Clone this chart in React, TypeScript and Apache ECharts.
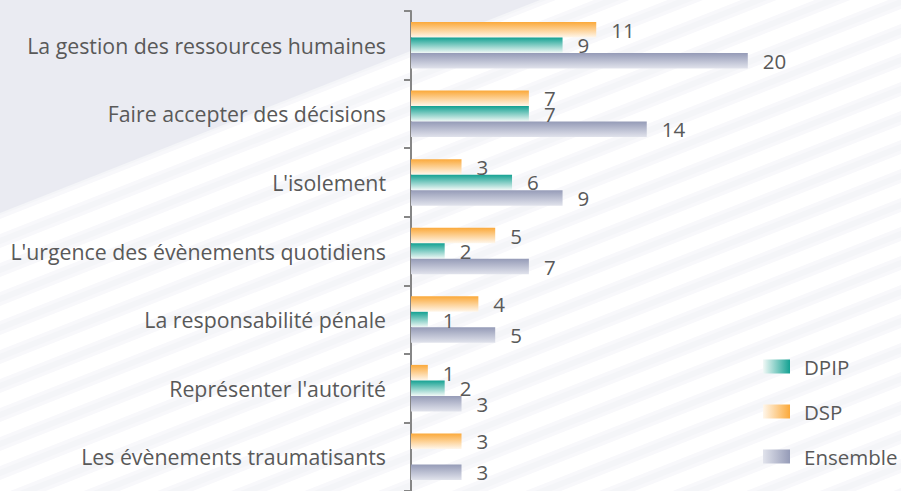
import React, { useEffect, useRef } from "react";
import * as echarts from "echarts";

const categories = [
  "La gestion des ressources humaines",
  "Faire accepter des décisions",
  "L'isolement",
  "L'urgence des évènements quotidiens",
  "La responsabilité pénale",
  "Représenter l'autorité",
  "Les évènements traumatisants",
];
const dspValues = [11, 7, 3, 5, 4, 1, 3];
const dpipValues: (number | null)[] = [9, 7, 6, 2, 1, 2, null];
const ensembleValues = [20, 14, 9, 7, 5, 3, 3];
const legendNames = ["DPIP", "DSP", "Ensemble"];

const FONT = "Open Sans";
const FS = 20.5;
const TEXT = "#595959";

const vGrad = (top: string, bottom: string) => ({
  type: "linear", x: 0, y: 0, x2: 0, y2: 1,
  colorStops: [{ offset: 0, color: top }, { offset: 1, color: bottom }],
});
const hGrad = (left: string, right: string) => ({
  type: "linear", x: 0, y: 0, x2: 1, y2: 0,
  colorStops: [{ offset: 0, color: left }, { offset: 1, color: right }],
});

const COLORS: Record<string, [string, string]> = {
  DPIP: ["#14a192", "#f2f9f7"],
  DSP: ["#fba93a", "#fff7ec"],
  Ensemble: ["#959bb7", "#e1e3ec"],
};

function background() {
  const els: any[] = [];
  const slope = 0.394;
  for (let y0 = -20; y0 < 491 + 420; y0 += 29) {
    const shape = { x1: -20, y1: y0 + slope * 20, x2: 930, y2: y0 - slope * 930 };
    els.push({ type: "line", silent: true, z: -100, shape, style: { stroke: "#f8f8fb", lineWidth: 13 } });
    els.push({ type: "line", silent: true, z: -99, shape, style: { stroke: "#f4f5f8", lineWidth: 6 } });
  }
  els.push({
    type: "polygon",
    silent: true,
    z: -90,
    shape: { points: [[0, 0], [540, 0], [0, 213]] },
    style: { fill: "#eaebf2" },
  });
  return els;
}

export default function App() {
  const ref = useRef<HTMLDivElement>(null);
  useEffect(() => {
    if (!ref.current) return;
    const chart = echarts.init(ref.current, null, { renderer: "svg" });
    const label = {
      show: true,
      position: "right",
      distance: 15,
      color: TEXT,
      fontFamily: FONT,
      fontSize: FS,
    };
    const mk = (name: string, data: any[]) => ({
      name,
      type: "bar",
      data,
      barWidth: 15.5,
      barGap: "0%",
      itemStyle: { color: vGrad(COLORS[name][0], COLORS[name][1]) },
      label,
    });
    chart.setOption({
      animation: false,
      backgroundColor: "#ffffff",
      graphic: background(),
      grid: { left: 411, top: 11, bottom: 0, right: 69, containLabel: false },
      xAxis: { type: "value", min: 0, max: 25, show: false },
      yAxis: {
        type: "category",
        inverse: true,
        data: categories,
        axisLine: { show: true, lineStyle: { color: "#868686", width: 2 } },
        axisTick: { show: true, length: 7, lineStyle: { color: "#868686", width: 2 } },
        axisLabel: { color: TEXT, fontFamily: FONT, fontSize: 21.3, margin: 25 },
        splitLine: { show: false },
      },
      legend: {
        orient: "vertical",
        left: 763,
        top: 356,
        padding: 0,
        itemWidth: 27,
        itemHeight: 14,
        itemGap: 24,
        icon: "rect",
        textStyle: { color: TEXT, fontFamily: FONT, fontSize: FS, lineHeight: 21, padding: [0, 0, 0, 9] },
        data: legendNames.map((n) => ({
          name: n,
          itemStyle: { color: hGrad(COLORS[n][1], COLORS[n][0]) },
        })),
      },
      series: [mk("DSP", dspValues), mk("DPIP", dpipValues), mk("Ensemble", ensembleValues)],
    });
    return () => chart.dispose();
  }, []);
  return (
    <div ref={ref} style={{ position: "fixed", left: 0, top: 0, width: 901, height: 491 }} />
  );
}
